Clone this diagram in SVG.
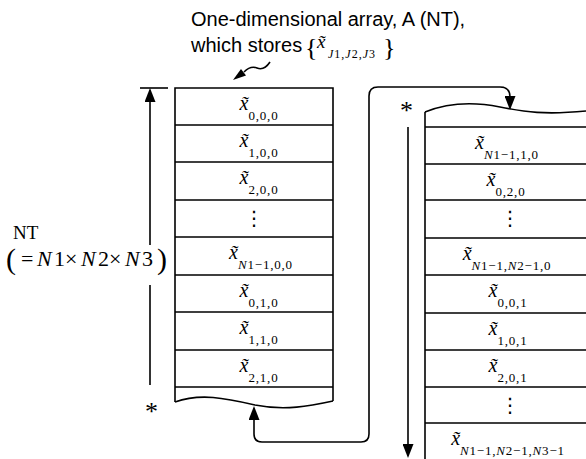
<svg xmlns="http://www.w3.org/2000/svg" width="586" height="459" viewBox="0 0 586 459">
<style>
.ln{fill:none;stroke:#000;stroke-width:1.6}
.hd{font-family:"Liberation Sans",Arial,sans-serif;font-size:20px;fill:#000}
.c{font-family:"Liberation Serif","Times New Roman",serif;fill:#000;text-anchor:middle}
.xv{font-size:20px;font-style:italic}
.sb{font-size:13px;letter-spacing:0.8px}
.i{font-style:italic}
.sr{font-family:"Liberation Serif","Times New Roman",serif;fill:#000}
.dots{font-family:"DejaVu Sans",sans-serif;font-size:20px;fill:#000;text-anchor:middle}
</style>
<defs>
<marker id="ah" viewBox="0 0 14 11" refX="10" refY="5.5" markerWidth="14" markerHeight="11" markerUnits="userSpaceOnUse" orient="auto-start-reverse">
<path d="M0,0 L14,5.5 L0,11 z" fill="#000"/>
</marker>
</defs>
<rect width="586" height="459" fill="#fff"/>

<g id="heading">
<text class="hd" x="191" y="26">One-dimensional array, A (NT),</text>
<text class="hd" x="191" y="52">which stores</text>
<text class="sr" x="305" y="56" font-size="26">{</text>
<text class="sr" x="317" y="48" font-size="19" font-style="italic">x̃</text>
<text class="sr" x="328" y="58" font-size="12" letter-spacing="1"><tspan class="i">J</tspan>1,<tspan class="i">J</tspan>2,<tspan class="i">J</tspan>3</text>
<text class="sr" x="383" y="56" font-size="26">}</text>
<path class="ln" d="M270,62 C266,68 262,70 257,68 C252,66 248,68 244,72"/>
<polygon points="233,80 246,75.5 241,69" fill="#000"/>
</g>

<g id="nt-label">
<text class="sr" x="13" y="239" font-size="19">NT</text>
<text class="sr" y="266" font-size="22"><tspan x="6" y="269" font-size="30">(</tspan><tspan x="21" y="266">=</tspan><tspan x="37" class="i">N</tspan><tspan x="54">1</tspan><tspan x="65">×</tspan><tspan x="81" class="i">N</tspan><tspan x="98">2</tspan><tspan x="109">×</tspan><tspan x="125" class="i">N</tspan><tspan x="142">3</tspan><tspan x="157" y="269" font-size="30">)</tspan></text>
</g>

<g id="array-left">
<path class="ln" d="M175,402 L175,88 L333,88 L333,401"/>
<path class="ln" d="M175,402 C200,393 225,398 255,405 C285,411 310,406 333,401"/>
<path class="ln" d="M175,125 H333 M175,162 H333 M175,200 H333 M175,237 H333 M175,275 H333 M175,312 H333 M175,350 H333 M175,387 H333"/>
<text class="c" x="259" y="110"><tspan class="xv">x̃</tspan><tspan class="sb" dy="10">0,0,0</tspan></text>
<text class="c" x="259" y="147"><tspan class="xv">x̃</tspan><tspan class="sb" dy="10">1,0,0</tspan></text>
<text class="c" x="259" y="184"><tspan class="xv">x̃</tspan><tspan class="sb" dy="10">2,0,0</tspan></text>
<text class="dots" x="254" y="225">⋮</text>
<text class="c" x="261" y="259"><tspan class="xv">x̃</tspan><tspan class="sb" dy="10"><tspan class="i">N</tspan>1−1,0,0</tspan></text>
<text class="c" x="259" y="297"><tspan class="xv">x̃</tspan><tspan class="sb" dy="10">0,1,0</tspan></text>
<text class="c" x="259" y="334"><tspan class="xv">x̃</tspan><tspan class="sb" dy="10">1,1,0</tspan></text>
<text class="c" x="259" y="372"><tspan class="xv">x̃</tspan><tspan class="sb" dy="10">2,1,0</tspan></text>
<text class="sr" x="145" y="420" font-size="26">*</text>
</g>

<g id="array-right">
<path class="ln" d="M425,459 L425,112"/>
<path class="ln" d="M425,112 C445,104 470,101 500,107 C525,112 545,115 586,111"/>
<path class="ln" d="M425,127 H586 M425,164 H586 M425,200 H586 M425,238 H586 M425,275 H586 M425,313 H586 M425,350 H586 M425,387 H586 M425,423 H586"/>
<text class="c" x="507" y="149"><tspan class="xv">x̃</tspan><tspan class="sb" dy="10"><tspan class="i">N</tspan>1−1,1,0</tspan></text>
<text class="c" x="506" y="186"><tspan class="xv">x̃</tspan><tspan class="sb" dy="10">0,2,0</tspan></text>
<text class="dots" x="510" y="225">⋮</text>
<text class="c" x="507" y="260"><tspan class="xv">x̃</tspan><tspan class="sb" dy="10"><tspan class="i">N</tspan>1−1,<tspan class="i">N</tspan>2−1,0</tspan></text>
<text class="c" x="508" y="297"><tspan class="xv">x̃</tspan><tspan class="sb" dy="10">0,0,1</tspan></text>
<text class="c" x="508" y="335"><tspan class="xv">x̃</tspan><tspan class="sb" dy="10">1,0,1</tspan></text>
<text class="c" x="508" y="372"><tspan class="xv">x̃</tspan><tspan class="sb" dy="10">2,0,1</tspan></text>
<text class="dots" x="510" y="412">⋮</text>
<text class="c" x="508" y="445"><tspan class="xv">x̃</tspan><tspan class="sb" dy="10"><tspan class="i">N</tspan>1−1,<tspan class="i">N</tspan>2−1,<tspan class="i">N</tspan>3−1</tspan></text>
<text class="sr" x="400" y="119" font-size="26">*</text>
</g>

<g id="connectors">
<path class="ln" d="M140,88 H168"/>
<path class="ln" d="M150,245 L150,92" marker-end="url(#ah)"/>
<path class="ln" d="M150,285 L150,385"/>
<path class="ln" d="M408,127 L408,454" marker-end="url(#ah)"/>
<path class="ln" d="M254,410 L254,434 Q254,442 262,442 L361,442 Q369,442 369,434 L369,96 Q369,87 378,87 L500,87 Q510,87 510,97 L510,106" marker-start="url(#ah)" marker-end="url(#ah)"/>
</g>
</svg>
